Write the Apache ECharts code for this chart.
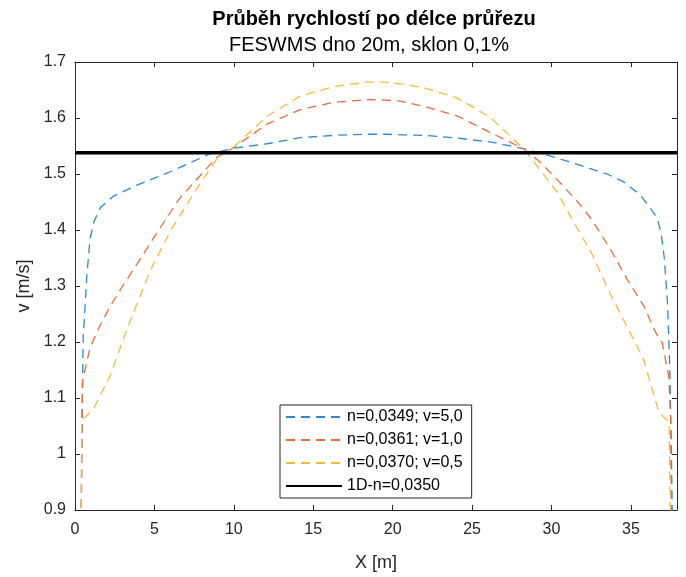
<!DOCTYPE html>
<html>
<head>
<meta charset="utf-8">
<script src="https://cdn.jsdelivr.net/npm/echarts@6/dist/echarts.min.js"></script>
<style>
html,body{margin:0;padding:0;background:#fff;}
#chart{width:686px;height:577px;}
</style>
</head>
<body>
<div id="chart"></div>
<script>
// ---- data ----
const titleText = 'Průběh rychlostí po délce průřezu';
const subtitleText = 'FESWMS dno 20m, sklon 0,1%';
const xAxisName = 'X [m]';
const yAxisName = 'v [m/s]';
const seriesNames = ['n=0,0349; v=5,0', 'n=0,0361; v=1,0', 'n=0,0370; v=0,5', '1D-n=0,0350'];

const xBlue = [0.38, 0.47, 0.52, 0.75, 0.95, 1.2, 1.6, 2.4, 3.9, 6.0, 8.5, 10.0, 12.1, 14.2, 16.3, 18.4, 19.5, 20.5, 22.0, 24.1, 26.2, 28.3, 30.4, 32.4, 33.5, 34.6, 35.6, 36.2, 36.65, 36.9, 37.1, 37.3, 37.45, 37.55, 37.62];
const vBlue = [0.85, 1.12, 1.21, 1.32, 1.385, 1.415, 1.44, 1.46, 1.48, 1.504, 1.536, 1.546, 1.554, 1.565, 1.569, 1.571, 1.571, 1.570, 1.569, 1.564, 1.557, 1.545, 1.528, 1.510, 1.500, 1.485, 1.462, 1.44, 1.421, 1.395, 1.35, 1.27, 1.15, 1.0, 0.85];

const xRed = [0.38, 0.44, 0.47, 0.95, 1.5, 2.2, 3.0, 3.9, 5.36, 6.6, 8.1, 8.93, 9.87, 12.08, 14.18, 16.27, 18.38, 19.5, 20.48, 21.95, 24.05, 26.15, 28.25, 29.3, 30.35, 31.6, 32.5, 33.7, 34.8, 35.8, 36.5, 36.97, 37.38, 37.5, 37.56];
const vRed = [0.85, 1.05, 1.13, 1.19, 1.225, 1.263, 1.30, 1.339, 1.404, 1.457, 1.504, 1.53, 1.545, 1.589, 1.615, 1.628, 1.633, 1.632, 1.630, 1.621, 1.604, 1.574, 1.545, 1.521, 1.49, 1.452, 1.42, 1.366, 1.31, 1.265, 1.22, 1.198, 1.139, 1.06, 0.85];

const xYellow = [0.38, 0.42, 1.15, 2.2, 3.26, 4.73, 6.0, 7.67, 8.93, 9.87, 12.08, 14.18, 16.27, 18.38, 19.5, 20.48, 21.95, 24.05, 26.15, 28.25, 30.35, 31.6, 32.5, 33.7, 35.8, 36.75, 37.4, 37.5];
const vYellow = [0.85, 1.06, 1.08, 1.139, 1.222, 1.327, 1.398, 1.474, 1.527, 1.545, 1.603, 1.639, 1.656, 1.664, 1.664, 1.661, 1.654, 1.636, 1.601, 1.545, 1.468, 1.404, 1.36, 1.286, 1.169, 1.075, 1.057, 0.85];

const xBlack = [0, 37.9];
const vBlack = [1.538, 1.538];

// ---- chart ----
function pairs(xs, vs) { return xs.map((x, i) => [x, vs[i]]); }

const FONT = "'Liberation Sans', Arial, Helvetica, sans-serif";
const AX = '#262626';
const X_MIN = 0, X_MAX = 37.9, X_INT = 5;
const Y_MIN = 0.9, Y_MAX = 1.7, Y_INT = 0.1;

const chart = echarts.init(document.getElementById('chart'), null, {renderer: 'canvas'});

const axisCommon = {
  axisLine: {show: true, onZero: false, lineStyle: {color: AX, width: 1}},
  axisTick: {show: true, inside: true, length: 5, lineStyle: {color: AX, width: 1}},
  splitLine: {show: false},
};

function dashLine(name, color, xs, vs) {
  return {
    name: name, type: 'line', data: pairs(xs, vs),
    showSymbol: false, symbol: 'none', smooth: false, clip: true,
    lineStyle: {color: color, width: 1.3, type: [9, 6]},
    itemStyle: {color: color},
    emphasis: {disabled: true}, animation: false
  };
}

chart.setOption({
  animation: false,
  backgroundColor: '#fff',
  title: [
    {text: titleText, left: 369, top: 4, textAlign: 'center',
     textStyle: {fontFamily: FONT, fontSize: 20, fontWeight: 'bold', color: '#000'}},
    {text: subtitleText, left: 364, top: 30, textAlign: 'center',
     textStyle: {fontFamily: FONT, fontSize: 20, fontWeight: 'normal', color: '#000'}}
  ],
  grid: {left: 75, right: 9, top: 62, bottom: 61},
  legend: {
    orient: 'vertical', left: 280, top: 405,
    data: seriesNames,
    itemWidth: 56, itemHeight: 16, itemGap: 7,
    padding: [4, 9, 4, 5],
    borderColor: AX, borderWidth: 1, backgroundColor: '#fff',
    textStyle: {fontFamily: FONT, fontSize: 16, color: '#000'},
    itemStyle: {opacity: 0, borderWidth: 0}
  },
  xAxis: [
    Object.assign({}, axisCommon, {
      type: 'value', position: 'bottom', min: X_MIN, max: X_MAX, interval: X_INT,
      name: xAxisName, nameLocation: 'middle', nameGap: 44,
      nameTextStyle: {fontFamily: FONT, fontSize: 18, color: AX},
      axisLabel: {fontFamily: FONT, fontSize: 16, color: AX, margin: 12,
        formatter: v => (Math.abs(v / X_INT - Math.round(v / X_INT)) < 1e-6 ? String(Math.round(v)) : '')}
    }),
    Object.assign({}, axisCommon, {
      type: 'value', position: 'top', min: X_MIN, max: X_MAX, interval: X_INT,
      axisLabel: {show: false}
    })
  ],
  yAxis: [
    Object.assign({}, axisCommon, {
      type: 'value', position: 'left', min: Y_MIN, max: Y_MAX, interval: Y_INT,
      name: yAxisName, nameLocation: 'middle', nameGap: 40, nameRotate: 90,
      nameTextStyle: {fontFamily: FONT, fontSize: 18, color: AX},
      axisLabel: {fontFamily: FONT, fontSize: 16, color: AX, margin: 9,
        formatter: v => String(parseFloat(v.toFixed(1)))}
    }),
    Object.assign({}, axisCommon, {
      type: 'value', position: 'right', min: Y_MIN, max: Y_MAX, interval: Y_INT,
      axisLabel: {show: false}
    })
  ],
  series: [
    dashLine(seriesNames[0], '#3188cc', xBlue, vBlue),
    dashLine(seriesNames[1], '#de7043', xRed, vRed),
    dashLine(seriesNames[2], '#edbc44', xYellow, vYellow),
    {
      name: seriesNames[3], type: 'line', data: pairs(xBlack, vBlack),
      showSymbol: false, symbol: 'none', clip: true,
      lineStyle: {color: '#000', width: 3.5, type: 'solid'},
      itemStyle: {color: '#000'},
      emphasis: {disabled: true}, animation: false
    }
  ]
});
</script>
</body>
</html>
